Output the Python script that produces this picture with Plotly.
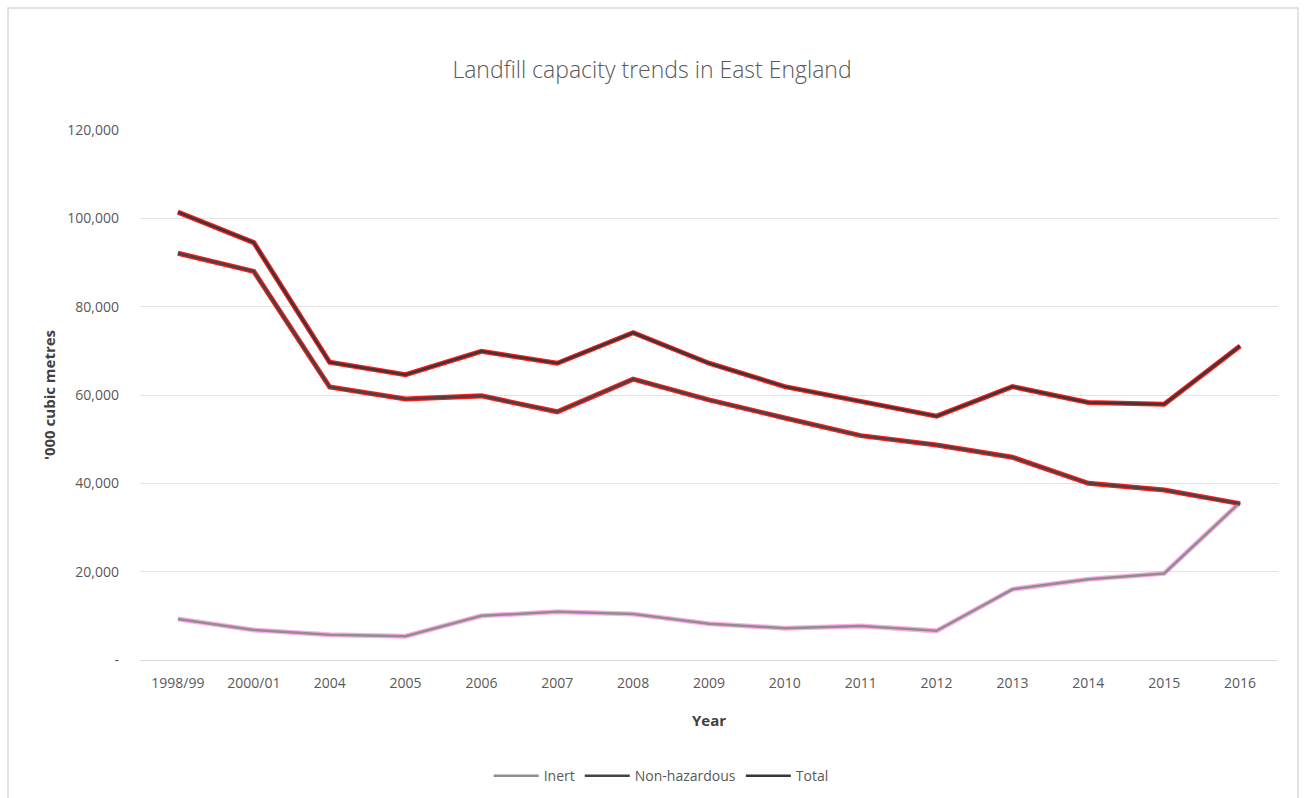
import plotly.graph_objects as go

years = ["1998/99", "2000/01", "2004", "2005", "2006", "2007", "2008", "2009",
         "2010", "2011", "2012", "2013", "2014", "2015", "2016"]
inert = [9300, 6800, 5700, 5400, 10000, 10900, 10400, 8200, 7200, 7700, 6600,
         16000, 18300, 19600, 35700]
non_hazardous = [92100, 88000, 61800, 59100, 59800, 56200, 63600, 58900, 54800,
                 50800, 48700, 45900, 40000, 38500, 35400]
total = [101400, 94500, 67400, 64600, 69900, 67200, 74100, 67200, 61900, 58500,
         55200, 61900, 58300, 57900, 71100]

y_tickvals = [0, 20000, 40000, 60000, 80000, 100000, 120000]
y_ticktext = ["-", "20,000", "40,000", "60,000", "80,000", "100,000", "120,000"]

FONT = "Open Sans"
fig = go.Figure()

# red highlight underlays (marker-pen look of the reference)
for vals, col in [(inert, "rgba(255,90,210,0.5)"),
                  (non_hazardous, "rgba(255,0,0,0.9)"),
                  (total, "rgba(255,0,0,0.9)")]:
    fig.add_trace(go.Scatter(x=years, y=vals, mode="lines", showlegend=False,
                             hoverinfo="skip",
                             line=dict(color=col, width=5)))

fig.add_trace(go.Scatter(x=years, y=inert, name="Inert", mode="lines",
                         line=dict(color="#8f8f8f", width=2.5)))
fig.add_trace(go.Scatter(x=years, y=non_hazardous, name="Non-hazardous", mode="lines",
                         line=dict(color="#444444", width=2.5)))
fig.add_trace(go.Scatter(x=years, y=total, name="Total", mode="lines",
                         line=dict(color="#383838", width=2.5)))

fig.update_layout(
    width=1304, height=798,
    paper_bgcolor="white", plot_bgcolor="white",
    margin=dict(l=140, r=26, t=130, b=138, autoexpand=False),
    font=dict(family=FONT, color="#595959", size=14),
    title=dict(text="Landfill capacity trends in East England",
               x=0.5, xanchor="center", y=1 - 70 / 798, yanchor="middle",
               font=dict(family=FONT, size=23, color="#595959", weight=300)),
    showlegend=True,
    legend=dict(orientation="h", x=0.458, xanchor="center", y=-0.219, yanchor="middle",
                font=dict(family=FONT, size=14, color="#595959"),
                itemwidth=45, tracegroupgap=0),
    xaxis=dict(type="category", range=[-0.5, 14.5], showgrid=False,
               showline=True, linecolor="#d9d9d9", linewidth=1, ticks="",
               ticklabelstandoff=10,
               tickfont=dict(family=FONT, size=14, color="#595959"),
               title=dict(text="Year", standoff=24,
                          font=dict(family=FONT, size=15, color="#404040", weight="bold"))),
    yaxis=dict(range=[0, 120000], tickvals=y_tickvals, ticktext=y_ticktext,
               showgrid=True, gridcolor="#e3e3e3", gridwidth=1, zeroline=False,
               showline=False, ticks="", ticklabelstandoff=20,
               tickfont=dict(family=FONT, size=14, color="#595959"),
               title=dict(text="'000 cubic metres", standoff=8,
                          font=dict(family=FONT, size=15, color="#404040", weight="bold"))),
    shapes=[dict(type="rect", xref="paper", yref="paper",
                 x0=(8 - 140) / 1138, x1=(1298 - 140) / 1138,
                 y0=-0.3, y1=(660 - 8) / 530,
                 line=dict(color="#d9d9d9", width=1.5), fillcolor="rgba(0,0,0,0)",
                 layer="below")],
)

fig.write_html("out.html")
